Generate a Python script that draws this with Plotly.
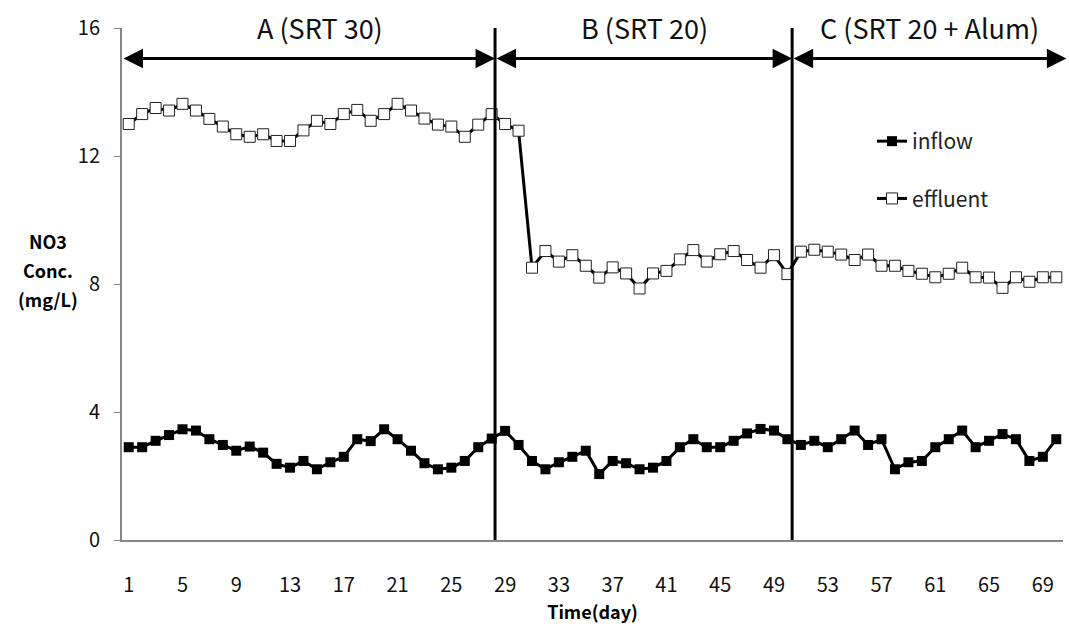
import plotly.graph_objects as go

# Daily NO3 concentrations (mg/L), days 1..70
days = list(range(1, 71))

inflow = [
    2.9, 2.9, 3.1, 3.28, 3.46, 3.42, 3.15, 2.97, 2.79, 2.92,
    2.73, 2.38, 2.26, 2.47, 2.21, 2.43, 2.6, 3.15, 3.09, 3.46,
    3.15, 2.79, 2.4, 2.21, 2.26, 2.47, 2.9, 3.17, 3.41, 2.97,
    2.47, 2.21, 2.43, 2.6, 2.79, 2.06, 2.47, 2.4, 2.21, 2.26,
    2.47, 2.9, 3.15, 2.9, 2.9, 3.1, 3.33, 3.47, 3.42, 3.15,
    2.97, 3.1, 2.9, 3.15, 3.42, 2.97, 3.15, 2.21, 2.43, 2.47,
    2.9, 3.15, 3.42, 2.9, 3.1, 3.31, 3.15, 2.47, 2.6, 3.15,
]

effluent = [
    13.0, 13.31, 13.5, 13.42, 13.63, 13.42, 13.16, 12.92, 12.68, 12.6,
    12.68, 12.47, 12.47, 12.8, 13.1, 13.0, 13.31, 13.44, 13.1, 13.31,
    13.63, 13.42, 13.17, 12.98, 12.92, 12.6, 12.98, 13.31, 13.0, 12.79,
    8.51, 9.03, 8.7, 8.9, 8.57, 8.2, 8.52, 8.33, 7.86, 8.33,
    8.41, 8.77, 9.06, 8.7, 8.93, 9.03, 8.75, 8.51, 8.9, 8.31,
    9.01, 9.07, 9.01, 8.92, 8.75, 8.92, 8.57, 8.57, 8.41, 8.32,
    8.21, 8.32, 8.51, 8.21, 8.2, 7.88, 8.21, 8.07, 8.21, 8.21,
]

x_ticks = list(range(1, 71, 4))
y_ticks = [0, 4, 8, 12, 16]

# Operating periods: label, boundaries between periods
period_labels = ["A (SRT 30)", "B (SRT 20)", "C (SRT 20 + Alum)"]
period_bounds = [0.5, 28.25, 50.35, 70.75]
label_centers = [15.2, 39.4, 60.6]

y_title_lines = ["NO3", "Conc.", "(mg/L)"]

FONT = "Noto Sans CJK KR, Open Sans, sans-serif"

fig = go.Figure()

fig.add_trace(go.Scatter(
    x=days, y=inflow, name="inflow", mode="lines+markers",
    line=dict(color="black", width=3),
    marker=dict(symbol="square", size=10, color="black"),
    legendgroup="a",
))
fig.add_trace(go.Scatter(
    x=days, y=effluent, name="effluent", mode="lines+markers",
    line=dict(color="black", width=3),
    marker=dict(symbol="square", size=11, color="white",
                line=dict(color="#222222", width=1)),
    legendgroup="b",
))

# Period divider lines
for xb in period_bounds[1:3]:
    fig.add_shape(type="line", xref="x", yref="y",
                  x0=xb, x1=xb, y0=0, y1=16.15,
                  line=dict(color="black", width=3))

# Double-headed arrows spanning each period, with the period name above
for i in range(3):
    fig.add_annotation(
        x=period_bounds[i + 1], y=15.05, ax=period_bounds[i], ay=15.05,
        xref="x", yref="y", axref="x", ayref="y",
        text="", showarrow=True, arrowhead=2, startarrowhead=2,
        arrowside="end+start", arrowsize=1.3, startarrowsize=1.3,
        arrowwidth=3, arrowcolor="black",
    )
    fig.add_annotation(
        x=label_centers[i], y=(540 - 27) / 512, xref="x", yref="paper",
        yanchor="middle", text=period_labels[i], showarrow=False,
        font=dict(family=FONT, size=27, color="#111111"),
    )

# Y-axis title as stacked horizontal lines
for k, line in enumerate(y_title_lines):
    fig.add_annotation(
        x=(48 - 122) / 941, y=(540 - (241 + 29 * k)) / 512,
        xref="paper", yref="paper", xanchor="center", yanchor="middle",
        showarrow=False, text=f"<b>{line}</b>",
        font=dict(family=FONT, size=18, color="black"),
    )

fig.update_layout(
    width=1069, height=634,
    margin=dict(l=122, r=6, t=28, b=94),
    paper_bgcolor="white", plot_bgcolor="white",
    font=dict(family=FONT, color="#111111"),
    showlegend=True,
    legend=dict(
        x=(872 - 122) / 941, y=(540 - 121) / 512,
        xanchor="left", yanchor="top",
        bgcolor="rgba(0,0,0,0)", tracegroupgap=27,
        font=dict(family=FONT, size=21, color="#222222"),
    ),
    xaxis=dict(
        range=[0.5, 70.5], tickvals=x_ticks,
        ticktext=[str(t) for t in x_ticks],
        showgrid=False, zeroline=False,
        showline=True, linecolor="#868686", linewidth=2,
        ticks="", ticklabelstandoff=26,
        tickfont=dict(family=FONT, size=20, color="#111111"),
        title=dict(text="<b>Time(day)</b>", standoff=2,
                   font=dict(family=FONT, size=18, color="black")),
    ),
    yaxis=dict(
        range=[0, 16], tickvals=y_ticks,
        showgrid=False, zeroline=False,
        showline=True, linecolor="#868686", linewidth=2,
        ticks="outside", ticklen=6, tickcolor="#868686", tickwidth=1,
        ticklabelstandoff=10,
        tickfont=dict(family=FONT, size=20, color="#111111"),
    ),
)

fig.write_html("out.html")
